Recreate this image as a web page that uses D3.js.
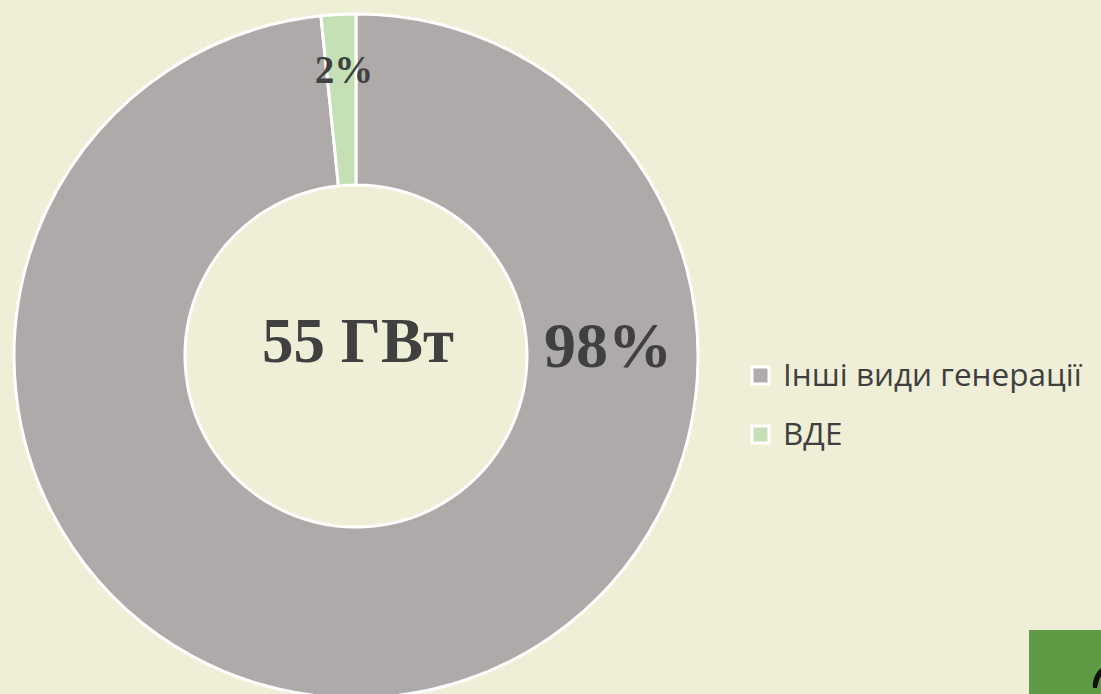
<!DOCTYPE html>
<html>
<head>
<meta charset="utf-8">
<script src="https://cdn.jsdelivr.net/npm/d3@7"></script>
<style>
  html, body { margin: 0; padding: 0; background: #efeed7; }
  svg { display: block; }
</style>
</head>
<body>
<svg id="chart" width="1101" height="694"></svg>
<script>
// data
var categories = ["Інші види генерації", "ВДЕ"];
var values = [54.1, 0.9];          // ГВт
var colors = ["#aeaaaa", "#c5e0b4"];
var totalLabel = "55 ГВт";

var svg = d3.select("#chart"),
  width = +svg.attr("width"),
  height = +svg.attr("height"),
  cx = 356,
  cy = 356,
  outerR = 342,
  innerR = 171;

svg.append("rect").attr("width", width).attr("height", height).attr("fill", "#efeed7");

var total = d3.sum(values);
var pie = d3.pie().sort(null).value(function (d) { return d; });
var arc = d3.arc().innerRadius(innerR).outerRadius(outerR);
var arcs = pie(values);

var g = svg.append("g").attr("transform", "translate(" + cx + "," + cy + ")");

g.selectAll("path.slice")
  .data(arcs)
  .enter().append("path")
  .attr("class", "slice")
  .attr("d", arc)
  .attr("fill", function (d, i) { return colors[i]; })
  .attr("stroke", "#ffffff")
  .attr("stroke-width", 3)
  .attr("stroke-linejoin", "round");

// percentage labels
var labelPos = [
  { x: 252, y: 11, size: 64 },   // big slice, right side
  { x: -12, y: -273, size: 39 }  // small slice, top
];
g.selectAll("text.pct")
  .data(arcs)
  .enter().append("text")
  .attr("class", "pct")
  .attr("x", function (d, i) { return labelPos[i].x; })
  .attr("y", function (d, i) { return labelPos[i].y; })
  .attr("text-anchor", "middle")
  .attr("font-family", "'Liberation Serif', 'Times New Roman', serif")
  .attr("font-weight", "bold")
  .attr("font-size", function (d, i) { return labelPos[i].size; })
  .attr("fill", "#404040")
  .text(function (d) { return Math.round(d.data / total * 100) + "%"; });

// center label
g.append("text")
  .attr("x", 2)
  .attr("y", 6)
  .attr("text-anchor", "middle")
  .attr("font-family", "'Liberation Serif', 'Times New Roman', serif")
  .attr("font-weight", "bold")
  .attr("font-size", 63)
  .attr("fill", "#404040")
  .text(totalLabel);

// legend
var legend = svg.append("g").attr("transform", "translate(752,367)");
var item = legend.selectAll("g")
  .data(categories)
  .enter().append("g")
  .attr("transform", function (d, i) { return "translate(0," + (i * 59) + ")"; });

item.append("rect")
  .attr("width", 17)
  .attr("height", 17)
  .attr("fill", function (d, i) { return colors[i]; })
  .attr("stroke", "#ffffff")
  .attr("stroke-width", 3);

item.append("text")
  .attr("x", 31)
  .attr("y", 19)
  .attr("font-family", "'Open Sans', 'Noto Sans', sans-serif")
  .attr("font-size", 31.5)
  .attr("fill", "#3f3f3f")
  .text(function (d) { return d; });

// green corner block (cropped logo)
svg.append("rect")
  .attr("x", 1029).attr("y", 630)
  .attr("width", 72).attr("height", 64)
  .attr("fill", "#5e9b44");
svg.append("path")
  .attr("d", "M1093,688 C1092,680 1096,672 1101,668 L1101,676 C1099,679 1098,684 1097,688 Z")
  .attr("fill", "#111111");
</script>
</body>
</html>
